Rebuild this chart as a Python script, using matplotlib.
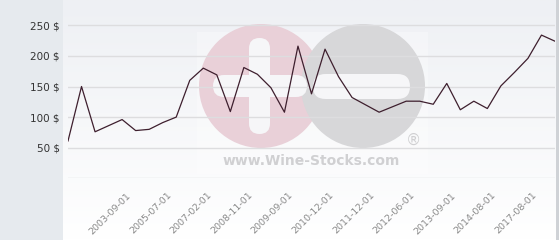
import matplotlib.pyplot as plt
import numpy as np
from matplotlib.patches import Circle, Rectangle, FancyBboxPatch
from matplotlib.transforms import ScaledTranslation

# price series (one point per listing date)
prices = [61, 150, 76, 86, 96, 78, 80, 91, 100, 160, 180, 169, 109,
          181, 170, 148, 108, 216, 138, 211, 166, 132, 120, 108, 117,
          126, 126, 121, 155, 112, 126, 114, 151, 173, 196, 234, 224]
tick_idx = [4, 7, 10, 13, 16, 19, 22, 25, 28, 31, 34]
tick_labels = ["2003-09-01", "2005-07-01", "2007-02-01", "2008-11-01",
               "2009-09-01", "2010-12-01", "2011-12-01", "2012-06-01",
               "2013-09-01", "2014-08-01", "2017-08-01"]
y_ticks = [50, 100, 150, 200, 250]

W, H = 560, 240
fig = plt.figure(figsize=(W / 100, H / 100), dpi=100)

# background layer in pixel coordinates
bg = fig.add_axes([0, 0, 1, 1], zorder=0)
bg.set_xlim(0, W)
bg.set_ylim(H, 0)
bg.axis("off")
grad = np.linspace(0, 1, 100).reshape(-1, 1)
bg.imshow(grad, cmap=plt.cm.colors.LinearSegmentedColormap.from_list(
    "g", ["#eef0f4", "#ffffff"]), extent=(63, 556, H, 0), aspect="auto")
bg.add_patch(Rectangle((0, 0), 63, H, color="#e6eaee", lw=0))
bg.add_patch(Rectangle((556, 0), 3, H, color="#cfd2d6", lw=0))

# watermark
bg.add_patch(Rectangle((197, 32), 231, 142, color="white", alpha=0.3, lw=0))
bg.add_patch(Circle((261, 86), 62, color="#e9d0d8", lw=0))
bg.add_patch(Circle((363, 86), 62, color="#d7d7d9", lw=0))
for x0, y0, w, h in [(249, 38, 21, 96), (213, 75, 94, 22), (313, 74, 97, 25)]:
    r = min(w, h) / 2
    bg.add_patch(FancyBboxPatch((x0 + r, y0 + r), w - 2 * r, h - 2 * r,
                                boxstyle=f"round,pad={r}", color="#f6f6f8", lw=0))
bg.text(311, 161, "www.Wine-Stocks.com", color="#d0d0d2", fontsize=10,
        fontweight="bold", ha="center", va="center")
bg.text(413, 140, "®", color="#d0d0d2", fontsize=11, ha="center", va="center")

# main chart
y0_px, px_per = 178.3, 30.6 / 50
ytop = 275
ax = fig.add_axes([68 / W, (H - y0_px) / H, (555 - 68) / W, ytop * px_per / H],
                  zorder=1)
ax.patch.set_alpha(0)
for s in ax.spines.values():
    s.set_visible(False)

for v in [0] + y_ticks:
    ax.axhline(v, color="#dddddf", lw=1, zorder=1)

x = np.arange(len(prices))
ax.plot(x, prices, color="#3e1f2e", lw=0.9, zorder=3)

ax.set_xlim(0, len(prices) - 1)
ax.set_ylim(0, ytop)
ax.set_yticks(y_ticks)
ax.set_yticklabels([f"{v} $" for v in y_ticks], fontsize=7.5, color="#333333")
ax.tick_params(axis="y", length=0, pad=6)

ax.set_xticks(tick_idx)
ax.set_xticklabels(tick_labels, rotation=45, ha="right", rotation_mode="anchor",
                   fontsize=6.8, color="#8a8a8a")
ax.tick_params(axis="x", length=0, pad=9)
off = ScaledTranslation(4 / 100, 0, fig.dpi_scale_trans)
for lab in ax.get_xticklabels():
    lab.set_transform(lab.get_transform() + off)

fig.savefig("out.png", dpi=100)
